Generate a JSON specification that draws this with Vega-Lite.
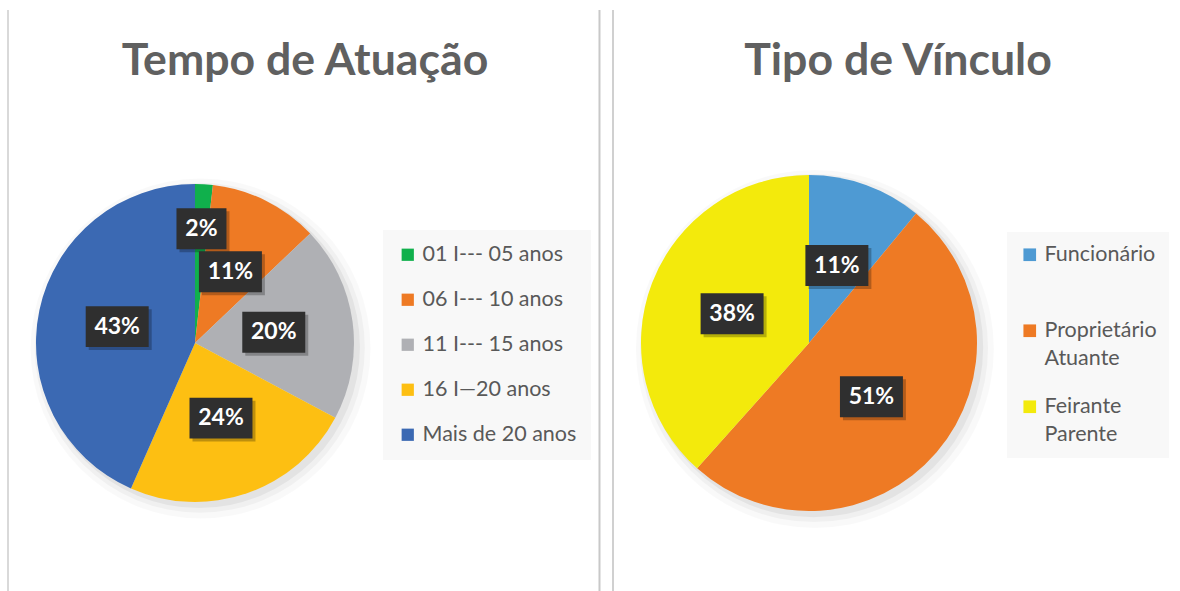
{
  "$schema": "https://vega.github.io/schema/vega-lite/v6.json",
  "background": "white",
  "padding": 0,
  "spacing": 0,
  "config": {"view": {"stroke": null}},
  "resolve": {"scale": {"color": "independent", "x": "independent", "y": "independent"}, "legend": {"color": "independent"}},
  "hconcat": [
    {
      "width": 600,
      "height": 591,
      "data": {"values": [
        {"cat": "01 I--- 05 anos", "share": 0.018, "ord": 1},
        {"cat": "06 I--- 10 anos", "share": 0.111, "ord": 2},
        {"cat": "11 I--- 15 anos", "share": 0.199, "ord": 3},
        {"cat": "16 I—20 anos", "share": 0.238, "ord": 4},
        {"cat": "Mais de 20 anos", "share": 0.434, "ord": 5}
      ]},
      "transform": [
        {"joinaggregate": [{"op": "sum", "field": "share", "as": "total"}]},
        {"window": [{"op": "sum", "field": "share", "as": "cum"}], "sort": [{"field": "ord"}], "frame": [null, 0]},
        {"calculate": "2*PI*(datum.cum - datum.share/2)/datum.total", "as": "mid"},
        {"calculate": "datum.share < 0.05 ? 0.72 : 0.5", "as": "lr"},
        {"calculate": "datum.lr*sin(datum.mid)", "as": "lx"},
        {"calculate": "datum.lr*cos(datum.mid)", "as": "ly"},
        {"calculate": "format(datum.share, '.0%')", "as": "lbl"}
      ],
      "layer": [
        {
          "transform": [{"aggregate": [{"op": "count", "as": "n"}]}],
          "mark": {"type": "rule", "color": "#d9d9d9", "strokeWidth": 2},
          "encoding": {
            "x": {"datum": -1.1761, "type": "quantitative", "scale": {"domain": [-1.2264, 2.5472], "nice": false, "zero": false}, "axis": null},
            "y": {"datum": 2.0943, "type": "quantitative", "scale": {"domain": [-1.5597, 2.1572], "nice": false, "zero": false}, "axis": null},
            "y2": {"datum": -1.5597}
          }
        },
        {
          "transform": [{"aggregate": [{"op": "count", "as": "n"}]}],
          "mark": {"type": "rule", "color": "#c8c8c8", "strokeWidth": 2},
          "encoding": {
            "x": {"datum": 2.5440, "type": "quantitative", "scale": {"domain": [-1.2264, 2.5472], "nice": false, "zero": false}, "axis": null},
            "y": {"datum": 2.0943, "type": "quantitative", "scale": {"domain": [-1.5597, 2.1572], "nice": false, "zero": false}, "axis": null},
            "y2": {"datum": -1.5597}
          }
        },
        {
          "transform": [{"aggregate": [{"op": "count", "as": "n"}]}],
          "mark": {"type": "text", "font": "Lato", "fontWeight": "bold", "fontSize": 44.6, "color": "#606060", "align": "center", "baseline": "middle"},
          "encoding": {
            "x": {"datum": 0.6918, "type": "quantitative", "scale": {"domain": [-1.2264, 2.5472], "nice": false, "zero": false}, "axis": null},
            "y": {"datum": 1.7673, "type": "quantitative", "scale": {"domain": [-1.5597, 2.1572], "nice": false, "zero": false}, "axis": null},
            "text": {"value": "Tempo de Atuação"}
          }
        },
        {
          "transform": [{"aggregate": [{"op": "sum", "field": "share", "as": "total"}]}],
          "mark": {"type": "arc", "outerRadius": 170, "color": "#000000", "opacity": 0.025},
          "encoding": {
            "theta": {"field": "total", "type": "quantitative"},
            "x": {"datum": 0.035, "type": "quantitative", "scale": {"domain": [-1.2264, 2.5472], "nice": false, "zero": false}, "axis": null},
            "y": {"datum": -0.035, "type": "quantitative", "scale": {"domain": [-1.5597, 2.1572], "nice": false, "zero": false}, "axis": null}
          }
        },
        {
          "transform": [{"aggregate": [{"op": "sum", "field": "share", "as": "total"}]}],
          "mark": {"type": "arc", "outerRadius": 165, "color": "#000000", "opacity": 0.035},
          "encoding": {
            "theta": {"field": "total", "type": "quantitative"},
            "x": {"datum": 0.03, "type": "quantitative", "scale": {"domain": [-1.2264, 2.5472], "nice": false, "zero": false}, "axis": null},
            "y": {"datum": -0.03, "type": "quantitative", "scale": {"domain": [-1.5597, 2.1572], "nice": false, "zero": false}, "axis": null}
          }
        },
        {
          "transform": [{"aggregate": [{"op": "sum", "field": "share", "as": "total"}]}],
          "mark": {"type": "arc", "outerRadius": 161, "color": "#000000", "opacity": 0.05},
          "encoding": {
            "theta": {"field": "total", "type": "quantitative"},
            "x": {"datum": 0.025, "type": "quantitative", "scale": {"domain": [-1.2264, 2.5472], "nice": false, "zero": false}, "axis": null},
            "y": {"datum": -0.025, "type": "quantitative", "scale": {"domain": [-1.5597, 2.1572], "nice": false, "zero": false}, "axis": null}
          }
        },
        {
          "mark": {"type": "arc", "outerRadius": 159},
          "encoding": {
            "theta": {"field": "share", "type": "quantitative", "stack": true},
            "order": {"field": "ord", "type": "quantitative"},
            "x": {"datum": 0, "type": "quantitative", "scale": {"domain": [-1.2264, 2.5472], "nice": false, "zero": false}, "axis": null},
            "y": {"datum": 0, "type": "quantitative", "scale": {"domain": [-1.5597, 2.1572], "nice": false, "zero": false}, "axis": null},
            "color": {
              "field": "cat", "type": "nominal",
              "scale": {"domain": ["01 I--- 05 anos", "06 I--- 10 anos", "11 I--- 15 anos", "16 I—20 anos", "Mais de 20 anos"], "range": ["#10b04c", "#ee7a24", "#afb0b4", "#fdbf12", "#3b69b3"]},
              "legend": {"orient": "none", "legendX": 383, "legendY": 230, "title": null, "fillColor": "#f8f8f8", "padding": 14, "symbolType": "square", "symbolSize": 150, "symbolStrokeWidth": 0, "labelFont": "Lato", "labelFontSize": 21.5, "labelColor": "#595959", "rowPadding": 22, "labelOffset": 4}
            }
          }
        },
        {
          "mark": {"type": "point", "filled": true, "color": "#000000", "opacity": 0.25, "xOffset": 3, "yOffset": 3},
          "encoding": {
            "x": {"field": "lx", "type": "quantitative", "scale": {"domain": [-1.2264, 2.5472], "nice": false, "zero": false}, "axis": null},
            "y": {"field": "ly", "type": "quantitative", "scale": {"domain": [-1.5597, 2.1572], "nice": false, "zero": false}, "axis": null},
            "size": {"value": 4096},
            "shape": {"condition": {"test": "length(datum.lbl) < 3", "value": "M-0.781,-0.64H0.781V0.64H-0.781Z"}, "value": "M-0.984,-0.64H0.984V0.64H-0.984Z"}
          }
        },
        {
          "mark": {"type": "point", "filled": true, "color": "#2f2f2f", "opacity": 1},
          "encoding": {
            "x": {"field": "lx", "type": "quantitative", "scale": {"domain": [-1.2264, 2.5472], "nice": false, "zero": false}, "axis": null},
            "y": {"field": "ly", "type": "quantitative", "scale": {"domain": [-1.5597, 2.1572], "nice": false, "zero": false}, "axis": null},
            "size": {"value": 4096},
            "shape": {"condition": {"test": "length(datum.lbl) < 3", "value": "M-0.781,-0.64H0.781V0.64H-0.781Z"}, "value": "M-0.984,-0.64H0.984V0.64H-0.984Z"}
          }
        },
        {
          "mark": {"type": "text", "font": "Lato", "fontWeight": "bold", "fontSize": 23, "color": "white", "align": "center", "baseline": "middle"},
          "encoding": {
            "x": {"field": "lx", "type": "quantitative", "scale": {"domain": [-1.2264, 2.5472], "nice": false, "zero": false}, "axis": null},
            "y": {"field": "ly", "type": "quantitative", "scale": {"domain": [-1.5597, 2.1572], "nice": false, "zero": false}, "axis": null},
            "text": {"field": "lbl", "type": "nominal"}
          }
        }
      ]
    },
    {
      "width": 580,
      "height": 591,
      "data": {"values": [
        {"cat": "Funcionário", "share": 0.11, "ord": 1},
        {"cat": "Proprietário Atuante", "share": 0.506, "ord": 2},
        {"cat": "Feirante Parente", "share": 0.384, "ord": 3}
      ]},
      "transform": [
        {"joinaggregate": [{"op": "sum", "field": "share", "as": "total"}]},
        {"window": [{"op": "sum", "field": "share", "as": "cum"}], "sort": [{"field": "ord"}], "frame": [null, 0]},
        {"calculate": "2*PI*(datum.cum - datum.share/2)/datum.total", "as": "mid"},
        {"calculate": "datum.share < 0.05 ? 0.72 : 0.49", "as": "lr"},
        {"calculate": "datum.lr*sin(datum.mid)", "as": "lx"},
        {"calculate": "datum.lr*cos(datum.mid)", "as": "ly"},
        {"calculate": "format(datum.share, '.0%')", "as": "lbl"}
      ],
      "layer": [
        {
          "transform": [{"aggregate": [{"op": "count", "as": "n"}]}],
          "mark": {"type": "rule", "color": "#d0d0d0", "strokeWidth": 2},
          "encoding": {
            "x": {"datum": -1.1667, "type": "quantitative", "scale": {"domain": [-1.2381, 2.2143], "nice": false, "zero": false}, "axis": null},
            "y": {"datum": 1.9821, "type": "quantitative", "scale": {"domain": [-1.4762, 2.0417], "nice": false, "zero": false}, "axis": null},
            "y2": {"datum": -1.4762}
          }
        },
        {
          "transform": [{"aggregate": [{"op": "count", "as": "n"}]}],
          "mark": {"type": "text", "font": "Lato", "fontWeight": "bold", "fontSize": 44.6, "color": "#606060", "align": "center", "baseline": "middle"},
          "encoding": {
            "x": {"datum": 0.5298, "type": "quantitative", "scale": {"domain": [-1.2381, 2.2143], "nice": false, "zero": false}, "axis": null},
            "y": {"datum": 1.6726, "type": "quantitative", "scale": {"domain": [-1.4762, 2.0417], "nice": false, "zero": false}, "axis": null},
            "text": {"value": "Tipo de Vínculo"}
          }
        },
        {
          "transform": [{"aggregate": [{"op": "sum", "field": "share", "as": "total"}]}],
          "mark": {"type": "arc", "outerRadius": 179, "color": "#000000", "opacity": 0.025},
          "encoding": {
            "theta": {"field": "total", "type": "quantitative"},
            "x": {"datum": 0.035, "type": "quantitative", "scale": {"domain": [-1.2381, 2.2143], "nice": false, "zero": false}, "axis": null},
            "y": {"datum": -0.035, "type": "quantitative", "scale": {"domain": [-1.4762, 2.0417], "nice": false, "zero": false}, "axis": null}
          }
        },
        {
          "transform": [{"aggregate": [{"op": "sum", "field": "share", "as": "total"}]}],
          "mark": {"type": "arc", "outerRadius": 174, "color": "#000000", "opacity": 0.035},
          "encoding": {
            "theta": {"field": "total", "type": "quantitative"},
            "x": {"datum": 0.03, "type": "quantitative", "scale": {"domain": [-1.2381, 2.2143], "nice": false, "zero": false}, "axis": null},
            "y": {"datum": -0.03, "type": "quantitative", "scale": {"domain": [-1.4762, 2.0417], "nice": false, "zero": false}, "axis": null}
          }
        },
        {
          "transform": [{"aggregate": [{"op": "sum", "field": "share", "as": "total"}]}],
          "mark": {"type": "arc", "outerRadius": 170, "color": "#000000", "opacity": 0.05},
          "encoding": {
            "theta": {"field": "total", "type": "quantitative"},
            "x": {"datum": 0.025, "type": "quantitative", "scale": {"domain": [-1.2381, 2.2143], "nice": false, "zero": false}, "axis": null},
            "y": {"datum": -0.025, "type": "quantitative", "scale": {"domain": [-1.4762, 2.0417], "nice": false, "zero": false}, "axis": null}
          }
        },
        {
          "mark": {"type": "arc", "outerRadius": 168},
          "encoding": {
            "theta": {"field": "share", "type": "quantitative", "stack": true},
            "order": {"field": "ord", "type": "quantitative"},
            "x": {"datum": 0, "type": "quantitative", "scale": {"domain": [-1.2381, 2.2143], "nice": false, "zero": false}, "axis": null},
            "y": {"datum": 0, "type": "quantitative", "scale": {"domain": [-1.4762, 2.0417], "nice": false, "zero": false}, "axis": null},
            "color": {
              "field": "cat", "type": "nominal",
              "scale": {"domain": ["Funcionário", "Proprietário Atuante", "Feirante Parente"], "range": ["#4e9ad3", "#ee7a24", "#f3ea0c"]},
              "legend": {"orient": "none", "legendX": 406, "legendY": 232, "title": null, "fillColor": "#f8f8f8", "padding": 12, "symbolType": "square", "symbolSize": 160, "symbolStrokeWidth": 0, "labelFont": "Lato", "labelFontSize": 21.5, "labelColor": "#595959", "rowPadding": 25, "labelOffset": 4, "labelExpr": "indexof(datum.label, ' ') > 0 ? split(datum.label, ' ') : [datum.label, '']", "encode": {"labels": {"update": {"lineHeight": {"value": 28}}}}}
            }
          }
        },
        {
          "mark": {"type": "point", "filled": true, "color": "#000000", "opacity": 0.25, "xOffset": 3, "yOffset": 3},
          "encoding": {
            "x": {"field": "lx", "type": "quantitative", "scale": {"domain": [-1.2381, 2.2143], "nice": false, "zero": false}, "axis": null},
            "y": {"field": "ly", "type": "quantitative", "scale": {"domain": [-1.4762, 2.0417], "nice": false, "zero": false}, "axis": null},
            "size": {"value": 4096},
            "shape": {"condition": {"test": "length(datum.lbl) < 3", "value": "M-0.781,-0.64H0.781V0.64H-0.781Z"}, "value": "M-0.984,-0.64H0.984V0.64H-0.984Z"}
          }
        },
        {
          "mark": {"type": "point", "filled": true, "color": "#2f2f2f", "opacity": 1},
          "encoding": {
            "x": {"field": "lx", "type": "quantitative", "scale": {"domain": [-1.2381, 2.2143], "nice": false, "zero": false}, "axis": null},
            "y": {"field": "ly", "type": "quantitative", "scale": {"domain": [-1.4762, 2.0417], "nice": false, "zero": false}, "axis": null},
            "size": {"value": 4096},
            "shape": {"condition": {"test": "length(datum.lbl) < 3", "value": "M-0.781,-0.64H0.781V0.64H-0.781Z"}, "value": "M-0.984,-0.64H0.984V0.64H-0.984Z"}
          }
        },
        {
          "mark": {"type": "text", "font": "Lato", "fontWeight": "bold", "fontSize": 23, "color": "white", "align": "center", "baseline": "middle"},
          "encoding": {
            "x": {"field": "lx", "type": "quantitative", "scale": {"domain": [-1.2381, 2.2143], "nice": false, "zero": false}, "axis": null},
            "y": {"field": "ly", "type": "quantitative", "scale": {"domain": [-1.4762, 2.0417], "nice": false, "zero": false}, "axis": null},
            "text": {"field": "lbl", "type": "nominal"}
          }
        }
      ]
    }
  ]
}
